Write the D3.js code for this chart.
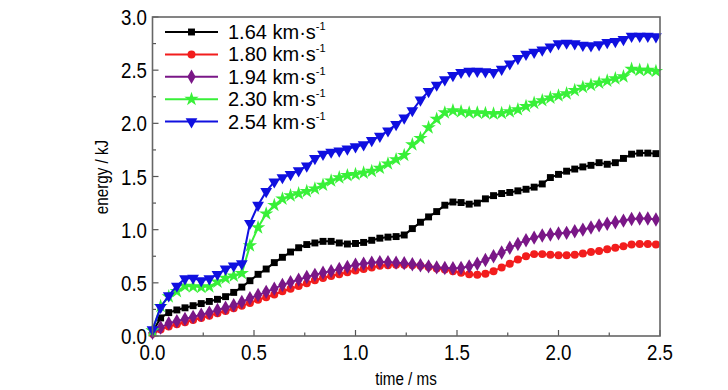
<!DOCTYPE html>
<html lang="en">
<head>
    <meta charset="UTF-8">
    <title>energy vs time</title>
    <script src="https://d3js.org/d3.v7.min.js"></script>
    <style>
        body { margin: 0; background: #fff; }
        svg { display: block; }
        text { font-family: "Liberation Sans", Arial, sans-serif; fill: #000; }
        .tick-label { font-size: 22px; }
        .axis-title { font-size: 19px; }
        .legend-label { font-size: 20px; }
    </style>
</head>
<body>
    <svg id="chart"></svg>

    <script>
        // time axis (ms), one point every 0.04 ms
        const times = d3.range(0, 63).map(i => +(i * 0.04).toFixed(2));

        const v164 = [0.04, 0.17, 0.22, 0.245, 0.265, 0.285, 0.305, 0.325, 0.345, 0.37,
                      0.41, 0.46, 0.52, 0.58, 0.63, 0.69, 0.74, 0.79, 0.83, 0.86,
                      0.875, 0.89, 0.89, 0.875, 0.865, 0.87, 0.88, 0.90, 0.92, 0.93,
                      0.935, 0.95, 1.01, 1.07, 1.12, 1.17, 1.23, 1.26, 1.255, 1.24,
                      1.25, 1.29, 1.32, 1.34, 1.35, 1.365, 1.38, 1.40, 1.43, 1.49,
                      1.52, 1.55, 1.57, 1.59, 1.605, 1.63, 1.615, 1.63, 1.67, 1.71,
                      1.72, 1.72, 1.715];

        const v180 = [0.02, 0.06, 0.09, 0.11, 0.13, 0.15, 0.17, 0.19, 0.215, 0.235,
                      0.26, 0.285, 0.31, 0.34, 0.365, 0.39, 0.42, 0.445, 0.47, 0.495,
                      0.525, 0.545, 0.565, 0.58, 0.60, 0.615, 0.63, 0.645, 0.66, 0.665,
                      0.67, 0.67, 0.665, 0.66, 0.65, 0.635, 0.625, 0.61, 0.595, 0.58,
                      0.575, 0.585, 0.61, 0.645, 0.68, 0.72, 0.75, 0.77, 0.77, 0.765,
                      0.76, 0.76, 0.765, 0.775, 0.79, 0.80, 0.815, 0.83, 0.845, 0.86,
                      0.865, 0.865, 0.86];

        const v194 = [0.03, 0.08, 0.12, 0.14, 0.16, 0.18, 0.20, 0.22, 0.245, 0.265,
                      0.29, 0.32, 0.355, 0.385, 0.415, 0.445, 0.48, 0.505, 0.53, 0.555,
                      0.575, 0.595, 0.61, 0.63, 0.65, 0.67, 0.68, 0.69, 0.695, 0.695,
                      0.69, 0.685, 0.675, 0.665, 0.655, 0.645, 0.64, 0.637, 0.64, 0.655,
                      0.68, 0.715, 0.75, 0.785, 0.83, 0.865, 0.90, 0.925, 0.945, 0.955,
                      0.965, 0.97, 0.985, 1.00, 1.02, 1.04, 1.055, 1.07, 1.085, 1.10,
                      1.105, 1.105, 1.095];

        const v230 = [0.05, 0.28, 0.37, 0.42, 0.47, 0.465, 0.46, 0.465, 0.51, 0.545,
                      0.565, 0.59, 0.85, 1.02, 1.15, 1.23, 1.29, 1.32, 1.34, 1.36,
                      1.385, 1.42, 1.46, 1.49, 1.51, 1.52, 1.535, 1.55, 1.58, 1.62,
                      1.66, 1.70, 1.80, 1.86, 1.96, 2.04, 2.10, 2.12, 2.11, 2.10,
                      2.10, 2.095, 2.09, 2.095, 2.11, 2.13, 2.16, 2.19, 2.215, 2.24,
                      2.26, 2.28, 2.31, 2.34, 2.36, 2.38, 2.40, 2.42, 2.44, 2.51,
                      2.50, 2.50, 2.49];

        const v254 = [0.06, 0.27, 0.38, 0.47, 0.54, 0.545, 0.52, 0.54, 0.58, 0.63,
                      0.66, 0.68, 1.06, 1.23, 1.36, 1.45, 1.49, 1.52, 1.555, 1.60,
                      1.67, 1.71, 1.73, 1.74, 1.76, 1.78, 1.80, 1.84, 1.88, 1.93,
                      1.99, 2.05, 2.12, 2.22, 2.30, 2.36, 2.41, 2.45, 2.48, 2.49,
                      2.49, 2.485, 2.48, 2.51, 2.56, 2.61, 2.65, 2.67, 2.69, 2.72,
                      2.75, 2.755, 2.75, 2.735, 2.73, 2.74, 2.76, 2.77, 2.79, 2.82,
                      2.82, 2.82, 2.815];

        const seriesLabels = ["1.64", "1.80", "1.94", "2.30", "2.54"];
        const seriesValues = [v164, v180, v194, v230, v254];
        const seriesColors = ["#000000", "#f21d1d", "#7a1787", "#38f038", "#1010e0"];
        const xTicks = [0, 0.5, 1.0, 1.5, 2.0, 2.5];
        const yTicks = [0, 0.5, 1.0, 1.5, 2.0, 2.5, 3.0];

        const width = 728, height = 390;
        const svg = d3.select("#chart").attr("width", width).attr("height", height);

        const x = d3.scaleLinear().domain([0, 2.5]).range([152.5, 660]);
        const y = d3.scaleLinear().domain([0, 3]).range([336, 17]);

        // marker shapes per series
        const symbols = [
            d3.symbol().type(d3.symbolSquare).size(48),
            d3.symbol().type(d3.symbolCircle).size(50),
            d3.symbol().type(d3.symbolDiamond).size(60),
            d3.symbol().type(d3.symbolStar).size(64),
            d3.symbol().type(d3.symbolTriangle).size(60)
        ];
        const symRotate = [0, 0, 0, 0, 180];

        const data = seriesLabels.map((lab, i) => ({
            label: lab,
            color: seriesColors[i],
            points: times.map((t, j) => ({ t: t, v: seriesValues[i][j] }))
        }));

        // minor + major ticks, drawn inward
        const axisG = svg.append("g");
        const minorX = d3.range(0, 2.51, 0.25);
        const minorY = d3.range(0, 3.01, 0.25);
        const isMajor = d => Math.abs(d * 2 - Math.round(d * 2)) < 1e-6;
        axisG.selectAll("line.xt").data(minorX).enter().append("line")
            .attr("x1", d => x(d)).attr("x2", d => x(d))
            .attr("y1", y(0)).attr("y2", d => y(0) - (isMajor(d) ? 6 : 3.5))
            .attr("stroke", "#555").attr("stroke-width", 1.2);
        axisG.selectAll("line.yt").data(minorY).enter().append("line")
            .attr("y1", d => y(d)).attr("y2", d => y(d))
            .attr("x1", x(0)).attr("x2", d => x(0) + (isMajor(d) ? 6 : 3.5))
            .attr("stroke", "#555").attr("stroke-width", 1.2);

        // series lines and markers
        const line = d3.line().x(d => x(d.t)).y(d => y(d.v));
        data.forEach((s, i) => {
            const g = svg.append("g");
            g.append("path")
                .attr("d", line(s.points))
                .attr("fill", "none")
                .attr("stroke", s.color)
                .attr("stroke-width", 2);
            g.selectAll("path.m").data(s.points).enter().append("path")
                .attr("d", symbols[i])
                .attr("transform", d => `translate(${x(d.t)},${y(d.v)}) rotate(${symRotate[i]})`)
                .attr("fill", s.color);
        });

        // frame
        svg.append("rect")
            .attr("x", x(0)).attr("y", y(3))
            .attr("width", x(2.5) - x(0)).attr("height", y(0) - y(3))
            .attr("fill", "none").attr("stroke", "#666").attr("stroke-width", 1.6);

        // tick labels (condensed look)
        svg.selectAll("text.xl").data(xTicks).enter().append("text")
            .attr("class", "tick-label")
            .attr("transform", d => `translate(${x(d)},360) scale(0.85,1)`)
            .attr("text-anchor", "middle")
            .text(d => d.toFixed(1));
        svg.selectAll("text.yl").data(yTicks).enter().append("text")
            .attr("class", "tick-label")
            .attr("transform", d => `translate(147,${y(d) + 8}) scale(0.85,1)`)
            .attr("text-anchor", "end")
            .text(d => d.toFixed(1));

        // axis titles
        svg.append("text").attr("class", "axis-title")
            .attr("transform", "translate(406,385) scale(0.8,1)")
            .attr("text-anchor", "middle")
            .text("time / ms");
        svg.append("text").attr("class", "axis-title")
            .attr("transform", "translate(108,177) rotate(-90) scale(0.8,1)")
            .attr("text-anchor", "middle")
            .text("energy / kJ");

        // legend
        const legend = svg.append("g");
        data.forEach((s, i) => {
            const ly = 32 + i * 22.4;
            legend.append("line")
                .attr("x1", 165).attr("x2", 218).attr("y1", ly).attr("y2", ly)
                .attr("stroke", s.color).attr("stroke-width", 2);
            legend.append("path")
                .attr("d", symbols[i])
                .attr("transform", `translate(191.5,${ly}) rotate(${symRotate[i]})`)
                .attr("fill", s.color);
            const t = legend.append("text").attr("class", "legend-label")
                .attr("x", 228).attr("y", ly + 7);
            t.append("tspan").text(s.label + " km\u00b7s");
            t.append("tspan").attr("dy", -9).style("font-size", "11px").text("-1");
        });
    </script>
</body>
</html>
